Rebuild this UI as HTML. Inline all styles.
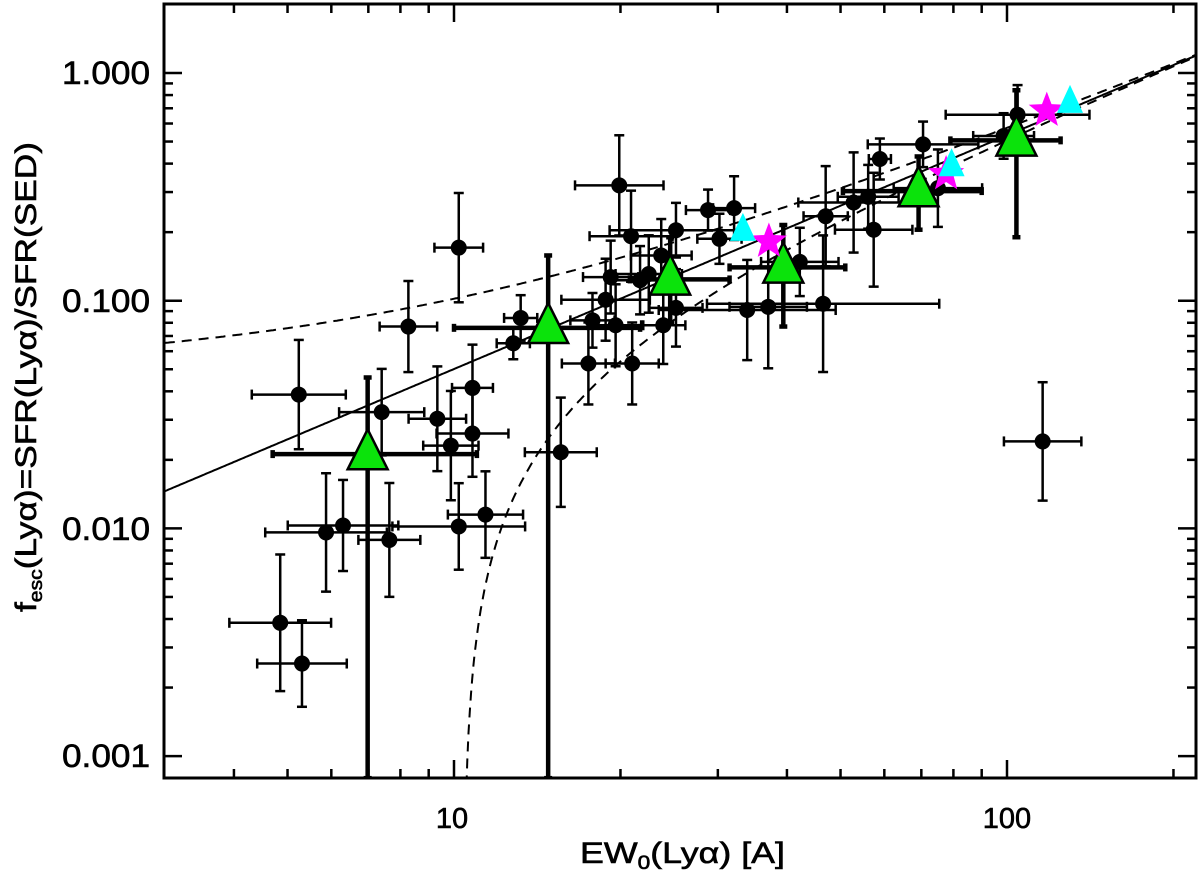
<!DOCTYPE html>
<html><head><meta charset="utf-8"><style>
html,body{margin:0;padding:0;background:#fff;width:1200px;height:883px;overflow:hidden;}
svg{display:block;font-family:"Liberation Sans",sans-serif;}
text{fill:#000;stroke:#000;stroke-width:0.6;}
</style></head><body>
<svg id="chart" width="1200" height="883" viewBox="0 0 1200 883" xmlns="http://www.w3.org/2000/svg">
<g id="plot"></g>
<text x="150" y="84" font-size="32" text-anchor="end" textLength="88" lengthAdjust="spacingAndGlyphs">1.000</text>
<text x="150" y="312" font-size="32" text-anchor="end" textLength="88" lengthAdjust="spacingAndGlyphs">0.100</text>
<text x="150" y="540" font-size="32" text-anchor="end" textLength="88" lengthAdjust="spacingAndGlyphs">0.010</text>
<text x="150" y="767" font-size="32" text-anchor="end" textLength="88" lengthAdjust="spacingAndGlyphs">0.001</text>
<text x="452" y="828" font-size="29" text-anchor="middle">10</text>
<text x="1007" y="828" font-size="29" text-anchor="middle">100</text>
<text x="580" y="863" font-size="30" textLength="205" lengthAdjust="spacingAndGlyphs">EW<tspan font-size="19" dy="6">0</tspan><tspan dy="-6">(Lyα)  [A]</tspan></text>
<text transform="translate(36,612) rotate(-90)" font-size="30" textLength="470" lengthAdjust="spacingAndGlyphs">f<tspan font-size="18" dy="6">esc</tspan><tspan dy="-6">(Lyα)=SFR(Lyα)/SFR(SED)</tspan></text>
</svg>
<script>
// black points: EW, fesc, x err (dex), y err (dex)
const ptX=[4.85,5.31,5.24,5.87,6.3,7.4,7.64,8.27,9.33,9.87,10.2,10.2,10.8,10.8,11.4,12.8,13.2,15.6,17.5,17.8,18.8,19.2,19.6,19.9,20.9,21.0,21.7,22.5,23.7,23.9,25.2,25.2,28.8,30.2,32.1,33.9,37.0,42.2,46.5,47.0,52.8,56.1,57.4,58.9,70.5,75,98.6,104.5,116];
const ptY=[0.00385,0.00255,0.0387,0.0096,0.0103,0.0324,0.0089,0.077,0.0303,0.0231,0.171,0.0102,0.0414,0.0261,0.0115,0.065,0.084,0.0216,0.053,0.082,0.101,0.127,0.078,0.321,0.192,0.053,0.123,0.131,0.158,0.078,0.204,0.093,0.25,0.187,0.255,0.091,0.094,0.148,0.097,0.235,0.27,0.286,0.205,0.419,0.486,0.312,0.529,0.656,0.0241];
const ptXerr=[0.092,0.081,0.085,0.11,0.1,0.077,0.056,0.052,0.052,0.05,0.044,0.12,0.037,0.065,0.068,0.03,0.03,0.065,0.048,0.04,0.08,0.05,0.05,0.08,0.075,0.048,0.05,0.06,0.055,0.04,0.12,0.048,0.04,0.04,0.038,0.16,0.07,0.07,0.21,0.04,0.1,0.055,0.07,0.02,0.1,0.08,0.055,0.13,0.07];
const ptYerr=[0.3,0.19,0.24,0.26,0.2,0.19,0.25,0.2,0.23,0.24,0.24,0.19,0.19,0.19,0.19,0.07,0.1,0.24,0.18,0.12,0.18,0.16,0.18,0.22,0.2,0.18,0.15,0.17,0.16,0.17,0.12,0.17,0.09,0.11,0.14,0.22,0.27,0.15,0.3,0.22,0.22,0.14,0.25,0.09,0.1,0.17,0.1,0.13,0.26];
// binned green triangles
const binX=[6.98,14.8,24.6,39.4,69.2,104];
const binY=[0.0212,0.076,0.124,0.14,0.303,0.506];
const binXlo=[4.7,10.0,20.8,31.5,50.5,79];
const binXhi=[11.0,21.7,31.5,51,90,125];
const binYlo=[0.0008,0.0008,0.08,0.077,0.205,0.19];
const binYhi=[0.046,0.158,0.19,0.215,0.43,0.84];
// cyan triangles and magenta stars
const cyanX=[33.3,79.4,130];
const cyanY=[0.204,0.392,0.744];
const starX=[37.1,77.6,118];
const starY=[0.182,0.36,0.684];
const xTicksMajor=[10,100];
const yTicksMajor=[0.001,0.01,0.1,1];

const L=164,R=1196,T=4,B=778;
const X=v=>454+(Math.log10(v)-1)*553;
const Y=v=>73-Math.log10(v)*227.7;
const NS='http://www.w3.org/2000/svg';
const plot=document.getElementById('plot');
function mk(tag,attrs){const e=document.createElementNS(NS,tag);for(const k in attrs)e.setAttribute(k,attrs[k]);plot.appendChild(e);return e;}

const defs=mk('defs',{});
const cp=document.createElementNS(NS,'clipPath');cp.setAttribute('id','clip');
const cr=document.createElementNS(NS,'rect');cr.setAttribute('x',L);cr.setAttribute('y',T);cr.setAttribute('width',R-L);cr.setAttribute('height',B-T);
cp.appendChild(cr);defs.appendChild(cp);

function curve(f,name,dash,x0){
  let d='';let first=true;
  for(let i=0;i<=600;i++){const lx=Math.log10(x0)+(Math.log10(220)-Math.log10(x0))*i/600;const ew=Math.pow(10,lx);const fv=f(ew);if(fv<=0)continue;
    d+=(first?'M':'L')+X(ew).toFixed(1)+','+Y(fv).toFixed(1);first=false;}
  const p=mk('path',{d:d,fill:'none',stroke:'#000','stroke-width':2,'clip-path':'url(#clip)'});
  if(dash)p.setAttribute('stroke-dasharray','10,7');
  
  
}
curve(ew=>0.00472*Math.pow(ew,1.026),'fit-line',false,3);
curve(ew=>0.0495+0.00525*ew,'upper-model-curve',true,3);
curve(ew=>0.00564*(ew-10.4),'lower-model-curve',true,10.41);

function ebar(x,y,x1,x2,y1,y2,w,cap,name){
  const g=mk('g',{stroke:'#000','stroke-width':w,'clip-path':'url(#clip)'});
  
  
  const add=(a,b,c,d)=>{const l=document.createElementNS(NS,'line');l.setAttribute('x1',a);l.setAttribute('y1',b);l.setAttribute('x2',c);l.setAttribute('y2',d);g.appendChild(l);};
  add(X(x1),Y(y),X(x2),Y(y));add(X(x),Y(y1),X(x),Y(y2));
  add(X(x1),Y(y)-cap,X(x1),Y(y)+cap);add(X(x2),Y(y)-cap,X(x2),Y(y)+cap);
  add(X(x)-cap,Y(y1),X(x)+cap,Y(y1));add(X(x)-cap,Y(y2),X(x)+cap,Y(y2));
}
for(let i=0;i<ptX.length;i++){
  const x=ptX[i],y=ptY[i],ex=Math.pow(10,ptXerr[i]),ey=Math.pow(10,ptYerr[i]);
  ebar(x,y,x/ex,x*ex,y/ey,y*ey,2.5,5,'point-error-bar');
}
for(let i=0;i<ptX.length;i++){
  const c=mk('circle',{cx:X(ptX[i]),cy:Y(ptY[i]),r:8,fill:'#000'});
  
  
}
for(let i=0;i<binX.length;i++){
  ebar(binX[i],binY[i],binXlo[i],binXhi[i],binYlo[i],binYhi[i],4.5,4,'bin-error-bar');
}
function tri(x,y,w,h,fill,name,sw){
  const px=X(x),py=Y(y);
  const p=mk('polygon',{points:`${px},${py-h*0.62} ${px-w/2},${py+h*0.38} ${px+w/2},${py+h*0.38}`,fill:fill,stroke:'#000','stroke-width':sw});
  
  
}
for(let i=0;i<binX.length;i++) tri(binX[i],binY[i],40,40,'#0be30b','binned-triangle',2.5);
for(let i=0;i<starX.length;i++){
  const px=X(starX[i]),py=Y(starY[i]);let pts='';
  for(let k=0;k<10;k++){const r=k%2?8:19;const a=-Math.PI/2+k*Math.PI/5;pts+=(px+r*Math.cos(a)).toFixed(1)+','+(py+r*Math.sin(a)).toFixed(1)+' ';}
  const s=mk('polygon',{points:pts,fill:'#ff00ff'});
  
  
}
for(let i=0;i<cyanX.length;i++) tri(cyanX[i],cyanY[i],26,28,'#00ffff','cyan-triangle',0);

const fr=mk('rect',{x:L,y:T,width:R-L,height:B-T,fill:'none',stroke:'#000','stroke-width':3});


const tg=mk('g',{stroke:'#000','stroke-width':2.5});


function tl(a,b,c,d){const l=document.createElementNS(NS,'line');l.setAttribute('x1',a);l.setAttribute('y1',b);l.setAttribute('x2',c);l.setAttribute('y2',d);tg.appendChild(l);}
for(let dec=1;dec<=100;dec*=10){for(let m=1;m<10;m++){const v=m*dec;const px=X(v);if(px<L+1||px>R-1)continue;const len=xTicksMajor.includes(v)?18:9;tl(px,B,px,B-len);tl(px,T,px,T+len);}}
for(let dec=0.001;dec<=1.5;dec*=10){for(let m=1;m<10;m++){const v=m*dec;const py=Y(v);if(py<T+1||py>B-1)continue;const len=yTicksMajor.some(t=>Math.abs(t-v)<1e-9)?18:9;tl(L,py,L+len,py);tl(R,py,R-len,py);}}
</script>
</body></html>
